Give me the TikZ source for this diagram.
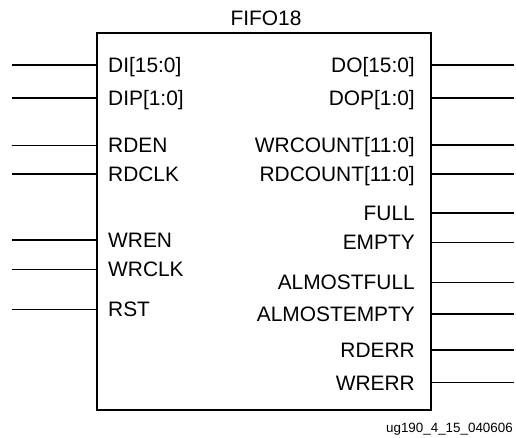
\documentclass[tikz,border=0pt]{standalone}
\usepackage{fontspec}
\setmainfont{Liberation Sans}
\usepackage{tikz}
\usetikzlibrary{positioning}
\tikzset{
  pinlabel/.style={font=\fontsize{20.9}{24}\selectfont,inner sep=0pt},
  bus/.style={line width=2.4pt},
  sig/.style={line width=1.1pt}
}

\begin{document}
\begin{tikzpicture}[x=1pt,y=-1pt]
\useasboundingbox (0,0) rectangle (516,438);
\node[draw,line width=2.5pt,minimum width=334pt,minimum height=377pt,inner sep=0pt] (fifo) at (264,221.5) {};
\node[pinlabel,anchor=base] (title) at (266,26) {FIFO18};
% inputs
\coordinate (diIn) at (12,65);
\coordinate (dipIn) at (12,98);
\coordinate (rdenIn) at (12,145.5);
\coordinate (rdclkIn) at (12,174);
\coordinate (wrenIn) at (12,240);
\coordinate (wrclkIn) at (12,269.5);
\coordinate (rstIn) at (12,309.5);
\node[pinlabel,anchor=base west] (di) at (108,72.4) {DI[15:0]};
\node[pinlabel,anchor=base west] (dip) at (108,105.4) {DIP[1:0]};
\node[pinlabel,anchor=base west] (rden) at (108,152.9) {RDEN};
\node[pinlabel,anchor=base west] (rdclk) at (108,181.4) {RDCLK};
\node[pinlabel,anchor=base west] (wren) at (108,247.4) {WREN};
\node[pinlabel,anchor=base west] (wrclk) at (108,276.9) {WRCLK};
\node[pinlabel,anchor=base west] (rst) at (108,316.9) {RST};
\draw[bus] (diIn) -- (diIn -| fifo.west);
\draw[bus] (dipIn) -- (dipIn -| fifo.west);
\draw[sig] (rdenIn) -- (rdenIn -| fifo.west);
\draw[sig] (rdclkIn) -- (rdclkIn -| fifo.west);
\draw[sig] (wrenIn) -- (wrenIn -| fifo.west);
\draw[sig] (wrclkIn) -- (wrclkIn -| fifo.west);
\draw[sig] (rstIn) -- (rstIn -| fifo.west);
% outputs
\coordinate (doOut) at (514,65);
\coordinate (dopOut) at (514,98);
\coordinate (wrcountOut) at (514,145);
\coordinate (rdcountOut) at (514,174);
\coordinate (fullOut) at (514,213);
\coordinate (emptyOut) at (514,242.5);
\coordinate (afullOut) at (514,282.3);
\coordinate (aemptyOut) at (514,314);
\coordinate (rderrOut) at (514,350);
\coordinate (wrerrOut) at (514,382.7);
\node[pinlabel,anchor=base east] (do) at (415,72.4) {DO[15:0]};
\node[pinlabel,anchor=base east] (dop) at (415,105.4) {DOP[1:0]};
\node[pinlabel,anchor=base east] (wrcount) at (415,152.4) {WRCOUNT[11:0]};
\node[pinlabel,anchor=base east] (rdcount) at (415,181.4) {RDCOUNT[11:0]};
\node[pinlabel,anchor=base east] (full) at (415,220.4) {FULL};
\node[pinlabel,anchor=base east] (empty) at (415,249.9) {EMPTY};
\node[pinlabel,anchor=base east] (afull) at (415,289.7) {ALMOSTFULL};
\node[pinlabel,anchor=base east] (aempty) at (415,321.4) {ALMOSTEMPTY};
\node[pinlabel,anchor=base east] (rderr) at (415,357.4) {RDERR};
\node[pinlabel,anchor=base east] (wrerr) at (415,390.1) {WRERR};
\draw[bus] (doOut) -- (doOut -| fifo.east);
\draw[bus] (dopOut) -- (dopOut -| fifo.east);
\draw[bus] (wrcountOut) -- (wrcountOut -| fifo.east);
\draw[bus] (rdcountOut) -- (rdcountOut -| fifo.east);
\draw[sig] (fullOut) -- (fullOut -| fifo.east);
\draw[sig] (emptyOut) -- (emptyOut -| fifo.east);
\draw[sig] (afullOut) -- (afullOut -| fifo.east);
\draw[sig] (aemptyOut) -- (aemptyOut -| fifo.east);
\draw[sig] (rderrOut) -- (rderrOut -| fifo.east);
\draw[sig] (wrerrOut) -- (wrerrOut -| fifo.east);
\node[font=\fontsize{13.4}{16}\selectfont,anchor=base east,inner sep=0pt] (figid) at (513,432) {ug190\_4\_15\_040606};
\end{tikzpicture}
\end{document}
